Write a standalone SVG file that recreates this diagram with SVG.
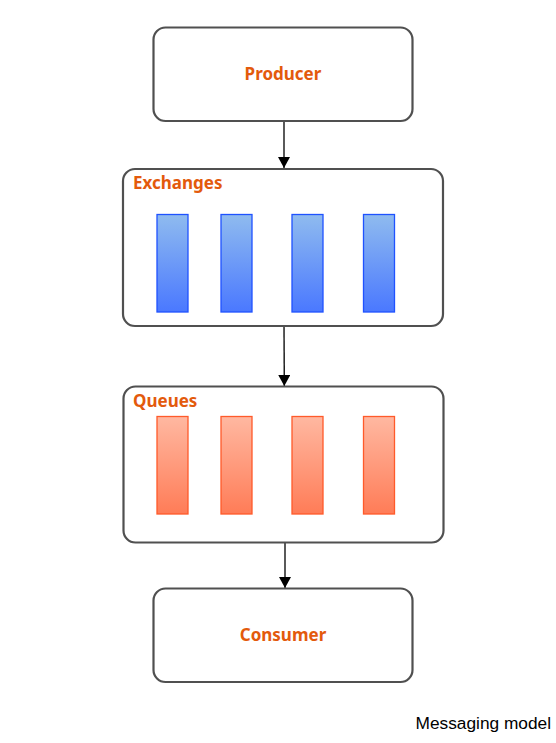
<svg xmlns="http://www.w3.org/2000/svg" width="556" height="743" viewBox="0 0 556 743">
<defs>
<linearGradient id="gBlue" x1="0" y1="0" x2="0" y2="1">
<stop offset="0" stop-color="#8fbbef"/>
<stop offset="1" stop-color="#4a78ff"/>
</linearGradient>
<linearGradient id="gRed" x1="0" y1="0" x2="0" y2="1">
<stop offset="0" stop-color="#ffb8a1"/>
<stop offset="1" stop-color="#ff7c57"/>
</linearGradient>
<marker id="arr" markerWidth="12" markerHeight="12" refX="11" refY="6" orient="auto" markerUnits="userSpaceOnUse" viewBox="0 0 12 12">
<path d="M0,0 L11,6 L0,12 Z" fill="#000"/>
</marker>
<style>
.box{fill:#fff;stroke:#505050;stroke-width:2.2}
.lbl{font-family:"Noto Sans","Open Sans",sans-serif;font-weight:bold;font-size:17px;fill:#e35a0c}
.bb{fill:url(#gBlue);stroke:#1f52ff;stroke-width:1.3}
.rb{fill:url(#gRed);stroke:#ff5a2a;stroke-width:1.3}
.conn{stroke:#000;stroke-width:1.3;fill:none;marker-end:url(#arr)}
</style>
</defs>
<rect width="556" height="743" fill="#fff"/>
<g id="connectors">
<line class="conn" x1="284" y1="121" x2="284" y2="168"/>
<line class="conn" x1="284" y1="326" x2="284.3" y2="386"/>
<line class="conn" x1="285" y1="543" x2="285" y2="588"/>
</g>
<g id="producer">
<rect class="box" x="153.5" y="27.5" width="259" height="93.5" rx="12"/>
<text class="lbl" x="283" y="80" text-anchor="middle">Producer</text>
</g>
<g id="exchanges">
<rect class="box" x="123" y="169" width="320" height="157" rx="12"/>
<text class="lbl" x="133" y="189">Exchanges</text>
<rect class="bb" x="157" y="214.5" width="31" height="97.5"/>
<rect class="bb" x="221" y="214.5" width="31" height="97.5"/>
<rect class="bb" x="292" y="214.5" width="31" height="97.5"/>
<rect class="bb" x="363.5" y="214.5" width="31" height="97.5"/>
</g>
<g id="queues">
<rect class="box" x="123.5" y="386.5" width="320" height="156" rx="12"/>
<text class="lbl" x="133" y="407">Queues</text>
<rect class="rb" x="157" y="416.5" width="31" height="97.5"/>
<rect class="rb" x="221" y="416.5" width="31" height="97.5"/>
<rect class="rb" x="292" y="416.5" width="31" height="97.5"/>
<rect class="rb" x="363.5" y="416.5" width="31" height="97.5"/>
</g>
<g id="consumer">
<rect class="box" x="153.5" y="588.5" width="259" height="93.5" rx="12"/>
<text class="lbl" x="283" y="641" text-anchor="middle">Consumer</text>
</g>
<text x="551" y="729" text-anchor="end" font-family="'Liberation Sans',Arial,sans-serif" font-size="17.3" fill="#000">Messaging model</text>
</svg>
